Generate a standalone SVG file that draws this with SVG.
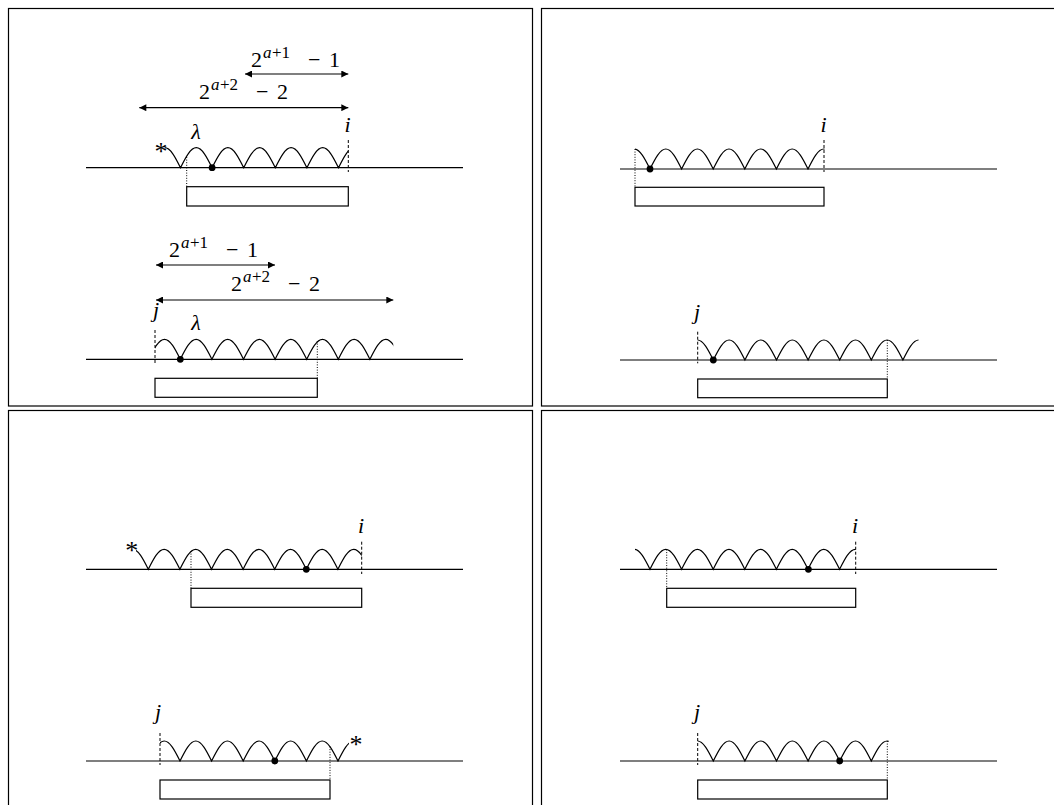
<svg xmlns="http://www.w3.org/2000/svg" width="1054" height="805" viewBox="0 0 1054 805">
<style>
.frame{fill:none;stroke:#000;stroke-width:1.2}
.base{fill:none;stroke:#000;stroke-width:1.2}
.wave{fill:none;stroke:#000;stroke-width:1.2}
.box{fill:#fff;stroke:#000;stroke-width:1.2}
.dash{stroke:#000;stroke-width:1;stroke-dasharray:3,2}
.dot{stroke:#000;stroke-width:1;stroke-dasharray:1,1.6}
.arr{stroke:#000;stroke-width:1.2;fill:none;marker-start:url(#ah);marker-end:url(#ah)}
text{font-family:"Liberation Serif","DejaVu Serif",serif;font-size:22px;fill:#000}
.it{font-style:italic}
.sup{font-size:17px;font-style:italic}
.sn{font-size:17px}
.ast{font-size:26px;text-anchor:middle}
.mid{text-anchor:middle}
</style>
<defs>
<marker id="ah" viewBox="0 0 10 10" refX="10" refY="5" markerWidth="8" markerHeight="7" markerUnits="userSpaceOnUse" orient="auto-start-reverse">
<path d="M0,0 L10,5 L0,10 Z" fill="#000"/>
</marker>
<clipPath id="c1" clipPathUnits="userSpaceOnUse"><rect x="164.7" y="0" width="183.6" height="805"/></clipPath>
<clipPath id="c2" clipPathUnits="userSpaceOnUse"><rect x="155" y="0" width="238.3" height="805"/></clipPath>
<clipPath id="c3" clipPathUnits="userSpaceOnUse"><rect x="635" y="0" width="189.5" height="805"/></clipPath>
<clipPath id="c4" clipPathUnits="userSpaceOnUse"><rect x="697.7" y="0" width="220.8" height="805"/></clipPath>
<clipPath id="c5" clipPathUnits="userSpaceOnUse"><rect x="136" y="0" width="225.7" height="805"/></clipPath>
<clipPath id="c6" clipPathUnits="userSpaceOnUse"><rect x="160" y="0" width="189" height="805"/></clipPath>
<clipPath id="c7" clipPathUnits="userSpaceOnUse"><rect x="635" y="0" width="220.7" height="805"/></clipPath>
<clipPath id="c8" clipPathUnits="userSpaceOnUse"><rect x="697.7" y="0" width="191" height="805"/></clipPath>
</defs>

<g id="frames">
<rect class="frame" x="8.5" y="8.5" width="524" height="397.5"/>
<rect class="frame" x="541.5" y="8.5" width="530" height="397.5"/>
<rect class="frame" x="8.5" y="410.5" width="524" height="410"/>
<rect class="frame" x="541.5" y="410.5" width="530" height="410"/>
</g>

<g id="panel-top-left-upper">
<line class="base" x1="86" y1="167.7" x2="463" y2="167.7"/>
<path class="wave" clip-path="url(#c1)" d="M148.9,167.7 c5.15,-10.25 10.08,-20 15.8,-20 c5.72,0 10.65,9.75 15.8,20 c5.15,-10.25 10.08,-20 15.8,-20 c5.72,0 10.65,9.75 15.8,20 c5.15,-10.25 10.08,-20 15.8,-20 c5.72,0 10.65,9.75 15.8,20 c5.15,-10.25 10.08,-20 15.8,-20 c5.72,0 10.65,9.75 15.8,20 c5.15,-10.25 10.08,-20 15.8,-20 c5.72,0 10.65,9.75 15.8,20 c5.15,-10.25 10.08,-20 15.8,-20 c5.72,0 10.65,9.75 15.8,20 c5.15,-10.25 10.08,-20 15.8,-20 c5.72,0 10.65,9.75 15.8,20"/>
<line class="dot" x1="186.7" y1="157" x2="186.7" y2="186.7"/>
<line class="dash" x1="348.3" y1="140" x2="348.3" y2="172"/>
<rect class="box" x="186.7" y="186.7" width="161.6" height="19.3"/>
<circle cx="212.1" cy="167.7" r="3.4" fill="#000"/>
<text x="161" y="160" class="ast">*</text>
<text x="196" y="139" class="it mid">λ</text>
<text x="347.5" y="131.5" class="it mid">i</text>
</g>

<g id="panel-top-left-lower">
<line class="base" x1="86" y1="359.3" x2="463" y2="359.3"/>
<path class="wave" clip-path="url(#c2)" d="M148.7,359.3 c5.15,-10.25 10.08,-20 15.8,-20 c5.72,0 10.65,9.75 15.8,20 c5.15,-10.25 10.08,-20 15.8,-20 c5.72,0 10.65,9.75 15.8,20 c5.15,-10.25 10.08,-20 15.8,-20 c5.72,0 10.65,9.75 15.8,20 c5.15,-10.25 10.08,-20 15.8,-20 c5.72,0 10.65,9.75 15.8,20 c5.15,-10.25 10.08,-20 15.8,-20 c5.72,0 10.65,9.75 15.8,20 c5.15,-10.25 10.08,-20 15.8,-20 c5.72,0 10.65,9.75 15.8,20 c5.15,-10.25 10.08,-20 15.8,-20 c5.72,0 10.65,9.75 15.8,20 c5.15,-10.25 10.08,-20 15.8,-20 c5.72,0 10.65,9.75 15.8,20"/>
<line class="dot" x1="317.3" y1="341" x2="317.3" y2="378.3"/>
<line class="dash" x1="155" y1="330" x2="155" y2="363"/>
<rect class="box" x="155" y="378.3" width="162.3" height="19"/>
<circle cx="180.3" cy="359.3" r="3.4" fill="#000"/>
<text x="196" y="330" class="it mid">λ</text>
<text x="156" y="317" class="it mid">j</text>
</g>

<g id="panel-top-right-upper">
<line class="base" x1="620" y1="169" x2="997" y2="169"/>
<path class="wave" clip-path="url(#c3)" d="M618.4,169 c5.15,-10.25 10.08,-20 15.8,-20 c5.72,0 10.65,9.75 15.8,20 c5.15,-10.25 10.08,-20 15.8,-20 c5.72,0 10.65,9.75 15.8,20 c5.15,-10.25 10.08,-20 15.8,-20 c5.72,0 10.65,9.75 15.8,20 c5.15,-10.25 10.08,-20 15.8,-20 c5.72,0 10.65,9.75 15.8,20 c5.15,-10.25 10.08,-20 15.8,-20 c5.72,0 10.65,9.75 15.8,20 c5.15,-10.25 10.08,-20 15.8,-20 c5.72,0 10.65,9.75 15.8,20 c5.15,-10.25 10.08,-20 15.8,-20 c5.72,0 10.65,9.75 15.8,20"/>
<line class="dot" x1="635" y1="149" x2="635" y2="187.3"/>
<line class="dash" x1="824" y1="140" x2="824" y2="172"/>
<rect class="box" x="635" y="187.3" width="189" height="18.7"/>
<circle cx="650" cy="169" r="3.4" fill="#000"/>
<text x="823.5" y="131.5" class="it mid">i</text>
</g>

<g id="panel-top-right-lower">
<line class="base" x1="620" y1="360" x2="997" y2="360"/>
<path class="wave" clip-path="url(#c4)" d="M681.7,360 c5.15,-10.25 10.08,-20 15.8,-20 c5.72,0 10.65,9.75 15.8,20 c5.15,-10.25 10.08,-20 15.8,-20 c5.72,0 10.65,9.75 15.8,20 c5.15,-10.25 10.08,-20 15.8,-20 c5.72,0 10.65,9.75 15.8,20 c5.15,-10.25 10.08,-20 15.8,-20 c5.72,0 10.65,9.75 15.8,20 c5.15,-10.25 10.08,-20 15.8,-20 c5.72,0 10.65,9.75 15.8,20 c5.15,-10.25 10.08,-20 15.8,-20 c5.72,0 10.65,9.75 15.8,20 c5.15,-10.25 10.08,-20 15.8,-20 c5.72,0 10.65,9.75 15.8,20 c5.15,-10.25 10.08,-20 15.8,-20 c5.72,0 10.65,9.75 15.8,20"/>
<line class="dot" x1="887.3" y1="340" x2="887.3" y2="379"/>
<line class="dash" x1="697.7" y1="331.7" x2="697.7" y2="363.3"/>
<rect class="box" x="697.7" y="379" width="189.6" height="18.7"/>
<circle cx="713.3" cy="360" r="3.4" fill="#000"/>
<text x="697" y="318.5" class="it mid">j</text>
</g>

<g id="panel-bottom-left-upper">
<line class="base" x1="86" y1="569.3" x2="463" y2="569.3"/>
<path class="wave" clip-path="url(#c5)" d="M116.7,569.3 c5.15,-10.25 10.08,-20 15.8,-20 c5.72,0 10.65,9.75 15.8,20 c5.15,-10.25 10.08,-20 15.8,-20 c5.72,0 10.65,9.75 15.8,20 c5.15,-10.25 10.08,-20 15.8,-20 c5.72,0 10.65,9.75 15.8,20 c5.15,-10.25 10.08,-20 15.8,-20 c5.72,0 10.65,9.75 15.8,20 c5.15,-10.25 10.08,-20 15.8,-20 c5.72,0 10.65,9.75 15.8,20 c5.15,-10.25 10.08,-20 15.8,-20 c5.72,0 10.65,9.75 15.8,20 c5.15,-10.25 10.08,-20 15.8,-20 c5.72,0 10.65,9.75 15.8,20 c5.15,-10.25 10.08,-20 15.8,-20 c5.72,0 10.65,9.75 15.8,20"/>
<line class="dot" x1="191" y1="551" x2="191" y2="588.3"/>
<line class="dash" x1="361.7" y1="541.7" x2="361.7" y2="574"/>
<rect class="box" x="191" y="588.3" width="170.7" height="19"/>
<circle cx="306.3" cy="569.3" r="3.4" fill="#000"/>
<text x="131.7" y="559" class="ast">*</text>
<text x="361" y="533" class="it mid">i</text>
</g>

<g id="panel-bottom-left-lower">
<line class="base" x1="86" y1="761" x2="463" y2="761"/>
<path class="wave" clip-path="url(#c6)" d="M148.4,761 c5.15,-10.25 10.08,-20 15.8,-20 c5.72,0 10.65,9.75 15.8,20 c5.15,-10.25 10.08,-20 15.8,-20 c5.72,0 10.65,9.75 15.8,20 c5.15,-10.25 10.08,-20 15.8,-20 c5.72,0 10.65,9.75 15.8,20 c5.15,-10.25 10.08,-20 15.8,-20 c5.72,0 10.65,9.75 15.8,20 c5.15,-10.25 10.08,-20 15.8,-20 c5.72,0 10.65,9.75 15.8,20 c5.15,-10.25 10.08,-20 15.8,-20 c5.72,0 10.65,9.75 15.8,20 c5.15,-10.25 10.08,-20 15.8,-20 c5.72,0 10.65,9.75 15.8,20"/>
<line class="dot" x1="330" y1="746.5" x2="330" y2="780"/>
<line class="dash" x1="160" y1="733" x2="160" y2="765"/>
<rect class="box" x="160" y="780" width="170" height="19"/>
<circle cx="274.8" cy="761" r="3.4" fill="#000"/>
<text x="356" y="753" class="ast">*</text>
<text x="158" y="719" class="it mid">j</text>
</g>

<g id="panel-bottom-right-upper">
<line class="base" x1="620" y1="569.3" x2="997" y2="569.3"/>
<path class="wave" clip-path="url(#c7)" d="M618.4,569.3 c5.15,-10.25 10.08,-20 15.8,-20 c5.72,0 10.65,9.75 15.8,20 c5.15,-10.25 10.08,-20 15.8,-20 c5.72,0 10.65,9.75 15.8,20 c5.15,-10.25 10.08,-20 15.8,-20 c5.72,0 10.65,9.75 15.8,20 c5.15,-10.25 10.08,-20 15.8,-20 c5.72,0 10.65,9.75 15.8,20 c5.15,-10.25 10.08,-20 15.8,-20 c5.72,0 10.65,9.75 15.8,20 c5.15,-10.25 10.08,-20 15.8,-20 c5.72,0 10.65,9.75 15.8,20 c5.15,-10.25 10.08,-20 15.8,-20 c5.72,0 10.65,9.75 15.8,20 c5.15,-10.25 10.08,-20 15.8,-20 c5.72,0 10.65,9.75 15.8,20"/>
<line class="dot" x1="666.7" y1="549.5" x2="666.7" y2="588.3"/>
<line class="dash" x1="855.7" y1="541.7" x2="855.7" y2="574"/>
<rect class="box" x="666.7" y="588.3" width="189" height="19"/>
<circle cx="808.4" cy="569.3" r="3.4" fill="#000"/>
<text x="855" y="533" class="it mid">i</text>
</g>

<g id="panel-bottom-right-lower">
<line class="base" x1="620" y1="761" x2="997" y2="761"/>
<path class="wave" clip-path="url(#c8)" d="M681.7,761 c5.15,-10.25 10.08,-20 15.8,-20 c5.72,0 10.65,9.75 15.8,20 c5.15,-10.25 10.08,-20 15.8,-20 c5.72,0 10.65,9.75 15.8,20 c5.15,-10.25 10.08,-20 15.8,-20 c5.72,0 10.65,9.75 15.8,20 c5.15,-10.25 10.08,-20 15.8,-20 c5.72,0 10.65,9.75 15.8,20 c5.15,-10.25 10.08,-20 15.8,-20 c5.72,0 10.65,9.75 15.8,20 c5.15,-10.25 10.08,-20 15.8,-20 c5.72,0 10.65,9.75 15.8,20 c5.15,-10.25 10.08,-20 15.8,-20 c5.72,0 10.65,9.75 15.8,20"/>
<line class="dot" x1="887.3" y1="741" x2="887.3" y2="780"/>
<line class="dash" x1="697.7" y1="733" x2="697.7" y2="765"/>
<rect class="box" x="697.7" y="780" width="189.6" height="19"/>
<circle cx="839.7" cy="761" r="3.4" fill="#000"/>
<text x="697" y="719" class="it mid">j</text>
</g>

<g id="connectors">
<line class="arr" x1="245" y1="74" x2="348.3" y2="74"/>
<line class="arr" x1="139.3" y1="107.7" x2="348.3" y2="107.7"/>
<line class="arr" x1="156" y1="265" x2="275" y2="265"/>
<line class="arr" x1="156" y1="300" x2="393.3" y2="300"/>
</g>

<g id="labels">
<text x="251" y="67">2</text><text x="263" y="58" class="sup">a</text><text x="272" y="58" class="sn">+1</text><text x="308" y="67">−</text><text x="329" y="67">1</text>
<text x="199" y="99">2</text><text x="211" y="90" class="sup">a</text><text x="220" y="90" class="sn">+2</text><text x="256" y="99">−</text><text x="277" y="99">2</text>
<text x="169" y="257">2</text><text x="181" y="248" class="sup">a</text><text x="190" y="248" class="sn">+1</text><text x="226" y="257">−</text><text x="247" y="257">1</text>
<text x="231" y="291">2</text><text x="243" y="282" class="sup">a</text><text x="252" y="282" class="sn">+2</text><text x="288" y="291">−</text><text x="309" y="291">2</text>
</g>
</svg>
